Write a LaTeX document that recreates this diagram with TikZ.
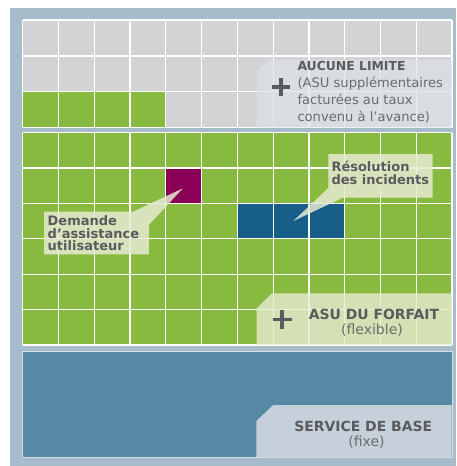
\documentclass[tikz,border=0pt]{standalone}
\usepackage{fontspec}
\setmainfont{DejaVu Sans}
\definecolor{outer}{HTML}{A7BCCB}
\definecolor{cellgray}{HTML}{D1D3D4}
\definecolor{cellgreen}{HTML}{89BA40}
\definecolor{purp}{HTML}{8B0057}
\definecolor{dblue}{HTML}{175E88}
\definecolor{base}{HTML}{5689A3}
\definecolor{basepanel}{HTML}{C5D0DB}
\definecolor{greypanel}{HTML}{DDE2E8}
\definecolor{greenpanel}{HTML}{E6EBD2}
\definecolor{txtbold}{HTML}{5A5B5D}
\definecolor{txtreg}{HTML}{6A6B6D}
\tikzset{
  gridline/.style={white, line width=1.2pt},
  plussign/.style={txtbold, line width=3.6pt},
  topbold/.style={font=\fontsize{12.4}{12}\selectfont\bfseries, text=txtbold, inner sep=0pt},
  topreg/.style={font=\fontsize{13.1}{12}\selectfont, text=txtreg, inner sep=0pt},
  bigbold/.style={font=\fontsize{13.95}{12}\selectfont\bfseries, text=txtbold, inner sep=0pt},
  bigreg/.style={font=\fontsize{14}{12}\selectfont, text=txtreg, inner sep=0pt},
  calltxt/.style={font=\fontsize{13}{12}\selectfont\bfseries, text=txtbold, inner sep=0pt, anchor=base west},
}
\begin{document}
\begin{tikzpicture}[x=1pt,y=-1pt]
\useasboundingbox (0,0) rectangle (456,466);
\fill[white] (0,0) rectangle (456,466);
\fill[outer] (10,8) rectangle (456,466);

% ---------- top section ----------
\fill[cellgray] (22.7,20) rectangle (452,127.7);
\fill[cellgreen] (22.7,91.8) rectangle (165.8,127.7);
\foreach \i in {0,...,12} \draw[gridline] ({22.7+\i*35.775},20) -- ({22.7+\i*35.775},127.7);
\foreach \j in {0,...,3} \draw[gridline] (22.7,{20+\j*35.9}) -- (452,{20+\j*35.9});
\fill[greypanel, fill opacity=0.7] (256.5,127.7) -- (256.5,72) -- (268.5,60) -- (452,60) -- (452,127.7) -- cycle;
\draw[plussign] (272,87) -- (290,87) (281,78) -- (281,96);
\node[topbold, anchor=base west] (al) at (297.3,70.2) {AUCUNE LIMITE};
\node[topreg, anchor=base west] (a1) at (297.3,87.7) {(ASU supplémentaires};
\node[topreg, anchor=base west] (a2) at (297.3,104.3) {facturées au taux};
\node[topreg, anchor=base west] (a3) at (297.3,121.3) {convenu à l'avance)};

% ---------- middle section ----------
\fill[cellgreen] (22.7,132.7) rectangle (452,345);
\fill[purp] (165.8,168.1) rectangle (201.6,203.5);
\fill[dblue] (237.4,203.5) rectangle (344.7,238.9);
\foreach \i in {0,...,12} \draw[gridline] ({22.7+\i*35.775},132.7) -- ({22.7+\i*35.775},345);
\foreach \j in {0,...,6} \draw[gridline] (22.7,{132.7+\j*35.383}) -- (452,{132.7+\j*35.383});

% callouts
\fill[greenpanel, fill opacity=0.85] (44,211.7) -- (133,211.7) -- (182.8,188.4) -- (148.8,225) -- (148.8,254.3) -- (44,254.3) -- cycle;
\node[calltxt] (d1) at (47.5,225.7) {Demande};
\node[calltxt] (d2) at (47.5,238.2) {d’assistance};
\node[calltxt] (d3) at (47.5,250.4) {utilisateur};

\fill[greenpanel, fill opacity=0.85] (328.3,154) -- (432.7,154) -- (432.7,197.5) -- (343.3,197.5) -- (293.3,221) -- (328.3,188) -- cycle;
\node[calltxt] (r1) at (331.3,171.7) {Résolution};
\node[calltxt] (r2) at (331.3,184.3) {des incidents};

% forfait panel
\fill[greenpanel, fill opacity=0.8] (256.7,345) -- (256.7,308.3) -- (271.7,293.3) -- (452,293.3) -- (452,345) -- cycle;
\draw[plussign] (272.5,319.5) -- (291.5,319.5) (282,310) -- (282,329);
\node[bigbold, anchor=base] (f1) at (374,319) {ASU DU FORFAIT};
\node[bigreg, anchor=base] (f2) at (372,334) {(flexible)};

% ---------- bottom section ----------
\filldraw[fill=base, draw=white!75!base, line width=0.9pt] (22.7,351.2) rectangle (452,457.7);
\fill[basepanel] (256.3,457.2) -- (256.3,421) -- (273.3,405) -- (451.5,405) -- (451.5,457.2) -- cycle;
\node[bigbold, anchor=base] (b1) at (363.2,431) {SERVICE DE BASE};
\node[bigreg, anchor=base] (b2) at (366.5,446.5) {(fixe)};
\end{tikzpicture}
\end{document}
